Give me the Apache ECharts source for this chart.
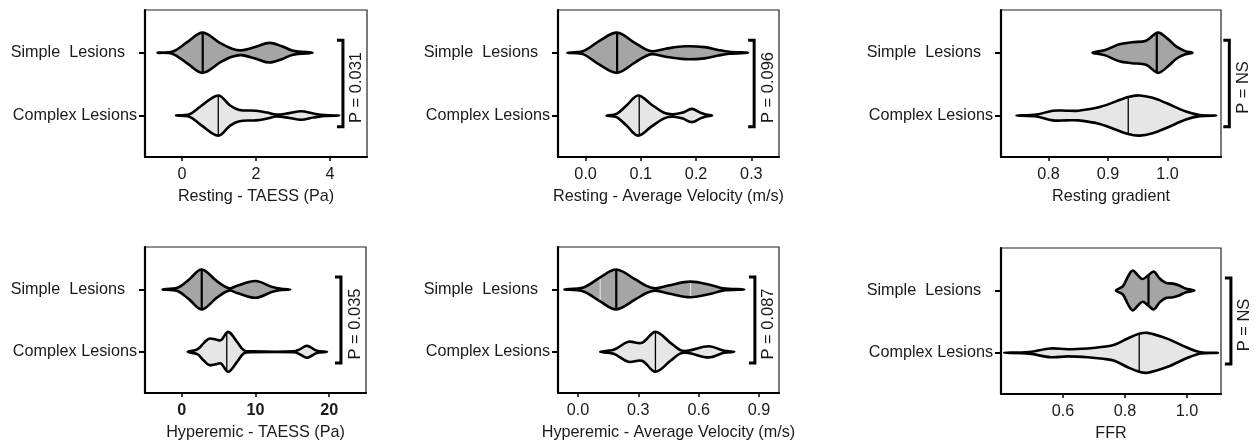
<!DOCTYPE html>
<html>
<head>
<meta charset="utf-8">
<title>Violin plots</title>
<script src="https://cdn.jsdelivr.net/npm/echarts@6/dist/echarts.min.js"></script>
<style>
  html, body { margin: 0; padding: 0; background: #fff; }
  #main { width: 1260px; height: 445px; }
</style>
</head>
<body>
<div id="main"></div>
<script>
var FONT = '"Liberation Sans", Arial, sans-serif'
var TXT = '#1a1a1a'
var FS = 16.2

// y position: Simple = 1, Complex = 0
var categories = ['Simple  Lesions', 'Complex Lesions']

var axisTitles = [
  'Resting - TAESS (Pa)',
  'Resting - Average Velocity (m/s)',
  'Resting gradient',
  'Hyperemic - TAESS (Pa)',
  'Hyperemic - Average Velocity (m/s)',
  'FFR'
]
var pLabels = ['P = 0.031', 'P = 0.096', 'P = NS', 'P = 0.035', 'P = 0.087', 'P = NS']

var xRanges = [[-1, 5], [-0.05, 0.35], [0.72, 1.09], [-5, 25], [-0.1, 1.0], [0.4, 1.11]]
var xTicks = [[0, 2, 4], [0, 0.1, 0.2, 0.3], [0.8, 0.9, 1.0], [0, 10, 20], [0, 0.3, 0.6, 0.9], [0.6, 0.8, 1.0]]
var xTickLabels = [
  ['0', '2', '4'],
  ['0.0', '0.1', '0.2', '0.3'],
  ['0.8', '0.9', '1.0'],
  ['0', '10', '20'],
  ['0.0', '0.3', '0.6', '0.9'],
  ['0.6', '0.8', '1.0']
]

// violin outlines: [value, relative density]
var simpleProfiles = [
  [[-0.66, 0], [-0.25, 0.06], [0.15, 0.54], [0.56, 1], [1.05, 0.46], [1.35, 0.2], [1.6, 0.12], [2.0, 0.3], [2.36, 0.49], [2.7, 0.32], [3.0, 0.1], [3.53, 0]],
  [[-0.033, 0], [-0.005, 0.07], [0.025, 0.59], [0.057, 1], [0.089, 0.49], [0.108, 0.18], [0.12, 0.07], [0.145, 0.2], [0.18, 0.32], [0.215, 0.28], [0.24, 0.14], [0.26, 0.05], [0.294, 0]],
  [[0.874, 0], [0.894, 0.12], [0.919, 0.42], [0.94, 0.52], [0.964, 0.6], [0.984, 1], [1.0, 0.7], [1.015, 0.3], [1.03, 0.08], [1.042, 0]],
  [[-2.6, 0], [-0.6, 0.08], [1.0, 0.5], [2.7, 1], [4.8, 0.4], [6.4, 0.06], [7.5, 0.18], [10, 0.42], [12.3, 0.12], [13.5, 0.03], [14.7, 0]],
  [[-0.068, 0], [0.027, 0.1], [0.11, 0.6], [0.19, 1], [0.285, 0.5], [0.34, 0.18], [0.385, 0.06], [0.45, 0.2], [0.56, 0.39], [0.668, 0.2], [0.72, 0.06], [0.827, 0]],
  [[0.771, 0], [0.793, 0.2], [0.81, 0.7], [0.825, 1], [0.842, 0.75], [0.857, 0.57], [0.875, 0.75], [0.893, 0.95], [0.912, 0.6], [0.932, 0.38], [0.955, 0.34], [0.975, 0.25], [0.995, 0.1], [1.024, 0]]
]
var complexProfiles = [
  [[-0.16, 0], [0.2, 0.06], [0.5, 0.45], [0.98, 1], [1.3, 0.5], [1.55, 0.28], [2.0, 0.24], [2.3, 0.15], [2.55, 0.05], [2.9, 0.12], [3.22, 0.21], [3.55, 0.1], [3.85, 0.02], [4.25, 0]],
  [[0.038, 0], [0.056, 0.08], [0.074, 0.5], [0.095, 1], [0.119, 0.55], [0.142, 0.14], [0.158, 0.06], [0.176, 0.15], [0.192, 0.33], [0.208, 0.14], [0.218, 0.05], [0.229, 0]],
  [[0.746, 0], [0.78, 0.05], [0.807, 0.24], [0.83, 0.24], [0.85, 0.24], [0.886, 0.42], [0.934, 0.92], [0.953, 1], [0.975, 0.88], [0.998, 0.62], [1.031, 0.2], [1.054, 0.03], [1.082, 0]],
  [[0.8, 0], [2.1, 0.12], [3.0, 0.45], [3.7, 0.66], [4.6, 0.62], [5.3, 0.58], [6.3, 1], [7.5, 0.5], [8.4, 0.08], [9.5, 0.02], [15.2, 0.02], [16, 0.12], [17, 0.3], [18.3, 0.06], [19.7, 0]],
  [[0.11, 0], [0.177, 0.1], [0.25, 0.5], [0.318, 0.45], [0.385, 1], [0.46, 0.45], [0.51, 0.08], [0.55, 0.06], [0.65, 0.28], [0.727, 0.05], [0.777, 0]],
  [[0.41, 0], [0.49, 0.04], [0.56, 0.22], [0.615, 0.18], [0.68, 0.22], [0.73, 0.3], [0.766, 0.4], [0.809, 0.72], [0.846, 0.95], [0.873, 1], [0.938, 0.7], [1.002, 0.25], [1.045, 0.03], [1.1, 0]]
]
var simpleMedians = [0.56, 0.057, 0.982, 2.7, 0.19, 0.876]
var complexMedians = [0.98, 0.097, 0.934, 6.1, 0.385, 0.846]
var simpleQuartiles = [[], [], [], [], [0.11, 0.56], []]
var bracketX = [4.35, 0.305, 1.104, 21.6, 0.88, 1.142]

var grids = [
  { left: 145, top: 10, width: 222, height: 147 },
  { left: 558, top: 10, width: 221, height: 147 },
  { left: 1001, top: 10, width: 220, height: 147 },
  { left: 145, top: 247, width: 221, height: 146 },
  { left: 558, top: 247, width: 221, height: 146 },
  { left: 1001, top: 248, width: 220, height: 146 }
]

var HALF = 0.32 // max half-width of a violin, in category units

function densityAt(profile, v) {
  for (var i = 1; i < profile.length; i++) {
    if (v <= profile[i][0]) {
      var a = profile[i - 1], b = profile[i]
      return a[1] + (b[1] - a[1]) * (v - a[0]) / (b[0] - a[0])
    }
  }
  return 0
}

function violinSeries(panel, profile, median, yPos, fill, medWidth, quartiles) {
  return {
    type: 'custom',
    xAxisIndex: panel,
    yAxisIndex: panel,
    silent: true,
    data: [[median, yPos]],
    renderItem: function (params, api) {
      var top = profile.map(function (p) { return api.coord([p[0], yPos + p[1] * HALF]) })
      var bottom = []
      for (var i = profile.length - 2; i > 0; i--) {
        bottom.push(api.coord([profile[i][0], yPos - profile[i][1] * HALF]))
      }
      var pts = top.concat(bottom)
      var children = [{
        type: 'polygon',
        shape: { points: pts, smooth: 0.35 },
        style: { fill: fill, stroke: null }
      }]
      quartiles.forEach(function (q) {
        var d = densityAt(profile, q) * HALF
        var a = api.coord([q, yPos + d]), b = api.coord([q, yPos - d])
        children.push({
          type: 'line',
          shape: { x1: a[0], y1: a[1], x2: b[0], y2: b[1] },
          style: { stroke: '#e8e8e8', lineWidth: 1 }
        })
      })
      var dm = densityAt(profile, median) * HALF
      var m1 = api.coord([median, yPos + dm]), m2 = api.coord([median, yPos - dm])
      children.push({
        type: 'line',
        shape: { x1: m1[0], y1: m1[1], x2: m2[0], y2: m2[1] },
        style: { stroke: '#000', lineWidth: medWidth }
      })
      children.push({
        type: 'polygon',
        shape: { points: pts, smooth: 0.35 },
        style: { fill: null, stroke: '#000', lineWidth: 2.6, lineJoin: 'round' }
      })
      return { type: 'group', children: children }
    }
  }
}

function bracketSeries(panel) {
  return {
    type: 'custom',
    xAxisIndex: panel,
    yAxisIndex: panel,
    silent: true,
    data: [[bracketX[panel], 1.2, -0.18]],
    renderItem: function (params, api) {
      var p1 = api.coord([api.value(0), api.value(1)])
      var p2 = api.coord([api.value(0), api.value(2)])
      return {
        type: 'group',
        children: [{
          type: 'polyline',
          shape: { points: [[p1[0] - 6, p1[1]], p1, p2, [p2[0] - 6, p2[1]]] },
          style: { stroke: '#000', lineWidth: 3, fill: null }
        }, {
          type: 'text',
          x: p1[0] + 14,
          y: (p1[1] + p2[1]) / 2 + 4,
          rotation: Math.PI / 2,
          style: {
            text: pLabels[panel],
            font: '16.5px ' + FONT,
            fill: TXT,
            align: 'center',
            verticalAlign: 'middle'
          }
        }]
      }
    }
  }
}

var option = {
  animation: false,
  backgroundColor: '#fff',
  grid: grids.map(function (g) {
    return Object.assign({ show: true, borderColor: '#222', borderWidth: 1.2, backgroundColor: 'transparent' }, g)
  }),
  xAxis: grids.map(function (g, i) {
    return {
      gridIndex: i,
      type: 'value',
      min: xRanges[i][0],
      max: xRanges[i][1],
      axisLine: { show: true, onZero: false, lineStyle: { color: '#000', width: 2.2 } },
      axisTick: { show: true, length: 4, customValues: xTicks[i], lineStyle: { color: '#000', width: 1.5 } },
      axisLabel: {
        customValues: xTicks[i],
        margin: 10,
        color: TXT,
        fontFamily: FONT,
        fontSize: FS,
        fontWeight: i === 3 ? 'bold' : 'normal',
        formatter: function (v) {
          var k = xTicks[i].indexOf(v)
          return k >= 0 ? xTickLabels[i][k] : ''
        }
      },
      splitLine: { show: false },
      name: axisTitles[i],
      nameLocation: 'middle',
      nameGap: 32,
      nameTextStyle: { color: TXT, fontFamily: FONT, fontSize: FS }
    }
  }),
  yAxis: grids.map(function (g, i) {
    return {
      gridIndex: i,
      type: 'value',
      min: -0.66,
      max: 1.68,
      axisLine: { show: true, onZero: false, lineStyle: { color: '#000', width: 2.2 } },
      axisTick: { show: true, length: 6, customValues: [0, 1], lineStyle: { color: '#000', width: 2 } },
      axisLabel: {
        customValues: [0, 1],
        margin: 8,
        color: TXT,
        fontFamily: FONT,
        fontSize: FS,
        formatter: function (v) {
          return v === 1 ? '{s|' + categories[0] + '}' : categories[1]
        },
        rich: {
          s: { padding: [0, 12, 0, 0], color: TXT, fontFamily: FONT, fontSize: FS }
        }
      },
      splitLine: { show: false }
    }
  }),
  series: []
}

for (var i = 0; i < 6; i++) {
  option.series.push(violinSeries(i, simpleProfiles[i], simpleMedians[i], 1, '#a5a5a5', 2.2, simpleQuartiles[i]))
  option.series.push(violinSeries(i, complexProfiles[i], complexMedians[i], 0, '#e5e6e5', 1.3, []))
  option.series.push(bracketSeries(i))
}

var chart = echarts.init(document.getElementById('main'), null, { renderer: 'canvas' })
chart.setOption(option)
</script>
</body>
</html>
